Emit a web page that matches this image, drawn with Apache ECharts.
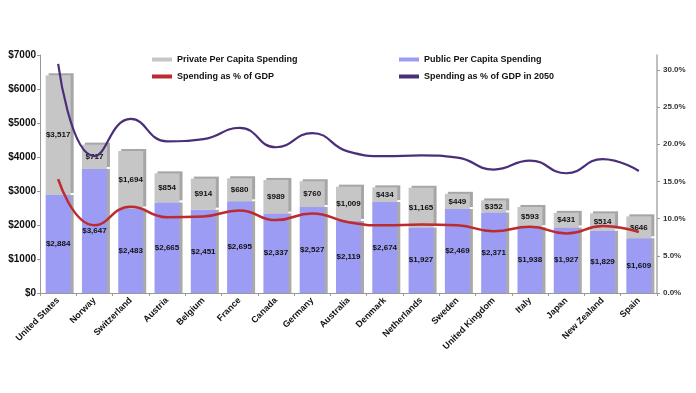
<!DOCTYPE html>
<html>
<head>
<meta charset="utf-8">
<script src="https://cdn.jsdelivr.net/npm/echarts@6/dist/echarts.min.js"></script>
<style>
html,body{margin:0;padding:0;background:#fff;}
#c{width:696px;height:393px;}
</style>
</head>
<body>
<div id="c"></div>
<script>
var countries = ['United States','Norway','Switzerland','Austria','Belgium','France','Canada','Germany','Australia','Denmark','Netherlands','Sweden','United Kingdom','Italy','Japan','New Zealand','Spain'];
var publicSpending = [2884,3647,2483,2665,2451,2695,2337,2527,2119,2674,1927,2469,2371,1938,1927,1829,1609];
var privateSpending = [3517,717,1694,854,914,680,989,760,1009,434,1165,449,352,593,431,514,646];
var pctGDP = [15.3,9.1,11.6,10.2,10.3,11.1,9.8,10.7,9.5,9.1,9.2,9.1,8.3,8.9,8.0,9.0,8.2];
var pctGDP2050 = [30.8,18.4,23.4,20.4,20.7,22.2,19.6,21.5,19.0,18.4,18.5,18.2,16.6,17.8,16.1,18.0,16.4];
var leftTicks = [0,1000,2000,3000,4000,5000,6000,7000];
var rightTicks = [0,5,10,15,20,25,30];

function money(v){ return '$' + v.toLocaleString('en-US'); }

var chart = echarts.init(document.getElementById('c'));
var labelFont = {show:true, position:'inside', color:'#111', fontSize:8, fontWeight:'bold', fontFamily:'Liberation Sans, Arial, sans-serif',
  formatter:function(p){ return money(p.value); }};

chart.setOption({
  animation:false,
  backgroundColor:'#fff',
  textStyle:{fontFamily:'Liberation Sans, Arial, sans-serif'},
  grid:{left:40, right:39, top:55, bottom:100},
  legend:[
    {orient:'vertical', left:147, top:50, itemWidth:20, itemHeight:4, itemGap:8,
     textStyle:{fontSize:9, fontWeight:'bold', color:'#111'},
     data:[{name:'Private Per Capita Spending', icon:'rect'},{name:'Spending as % of GDP', icon:'rect'}]},
    {orient:'vertical', left:394, top:50, itemWidth:20, itemHeight:4, itemGap:8,
     textStyle:{fontSize:9, fontWeight:'bold', color:'#111'},
     data:[{name:'Public Per Capita Spending', icon:'rect'},{name:'Spending as % of GDP in 2050', icon:'rect'}]}
  ],
  xAxis:{type:'category', data:countries,
    axisLine:{lineStyle:{color:'#999'}},
    axisTick:{show:true, length:3, lineStyle:{color:'#999'}},
    axisLabel:{rotate:45, interval:0, fontSize:9, fontWeight:'bold', color:'#111', margin:6}},
  yAxis:[
    {type:'value', min:leftTicks[0], max:leftTicks[leftTicks.length-1], interval:1000,
     axisLine:{show:true, lineStyle:{color:'#999'}},
     axisTick:{show:true, length:3, lineStyle:{color:'#999'}},
     splitLine:{show:false},
     axisLabel:{fontSize:10, fontWeight:'bold', color:'#111', margin:4, formatter:function(v){return '$'+v;}}},
    {type:'value', min:rightTicks[0], max:32, interval:5,
     axisLine:{show:true, lineStyle:{color:'#aaa', width:1.5}},
     axisTick:{show:true, length:3, lineStyle:{color:'#999'}},
     splitLine:{show:false},
     axisLabel:{fontSize:8, fontWeight:'bold', color:'#333', margin:6, showMaxLabel:false,
       formatter:function(v){ return rightTicks.indexOf(v) >= 0 ? v.toFixed(1)+'%' : ''; }}}
  ],
  series:[
    {name:'Public Per Capita Spending', type:'bar', stack:'s', barWidth:25, data:publicSpending,
     itemStyle:{color:'#9c9cf4', shadowColor:'#aaaaaa', shadowOffsetX:3, shadowOffsetY:0, shadowBlur:0},
     label:labelFont},
    {name:'Private Per Capita Spending', type:'bar', stack:'s', barWidth:25, data:privateSpending,
     itemStyle:{color:'#c6c6c6', shadowColor:'#a6a6a6', shadowOffsetX:3, shadowOffsetY:-2, shadowBlur:0},
     label:labelFont},
    {name:'Spending as % of GDP', type:'line', yAxisIndex:1, data:pctGDP, smooth:0.5,
     symbol:'none', lineStyle:{color:'#bb2b30', width:2.5}, itemStyle:{color:'#bb2b30'}},
    {name:'Spending as % of GDP in 2050', type:'line', yAxisIndex:1, data:pctGDP2050, smooth:0.5,
     symbol:'none', lineStyle:{color:'#4a2f78', width:2.2}, itemStyle:{color:'#4a2f78'}}
  ]
});
</script>
</body>
</html>
